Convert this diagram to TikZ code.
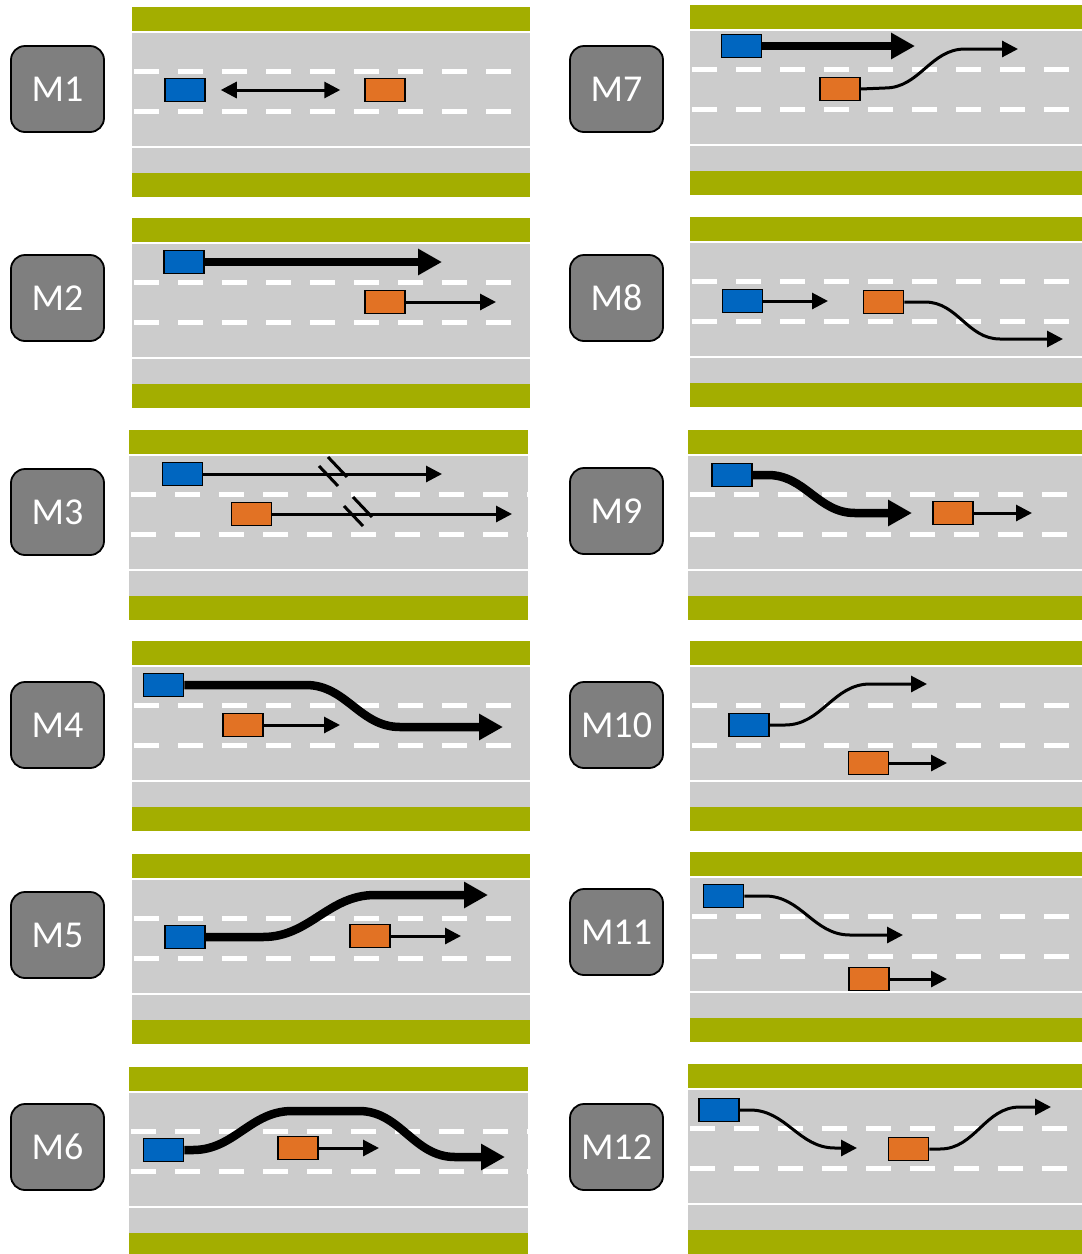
\documentclass[tikz,border=0pt]{standalone}
\usepackage{fontspec}
\usepackage{tikz}
\usetikzlibrary{arrows.meta}
\newfontfamily\tagfont{Carlito}

\definecolor{grass}{RGB}{163,174,0}
\definecolor{asphalt}{RGB}{204,204,204}
\definecolor{carblue}{RGB}{0,102,192}
\definecolor{carorange}{RGB}{226,114,36}
\definecolor{taggray}{RGB}{127,127,127}

\begin{document}
\begin{tikzpicture}[x=1pt, y=-1pt,
  tag/.style={draw=black, line width=1.8pt, fill=taggray, rounded corners=14pt,
    minimum width=93pt, minimum height=86pt, inner sep=0pt, text=white,
    font=\tagfont\fontsize{38}{40}\selectfont},
  car/.style={draw=black, line width=1.5pt, minimum width=40pt, minimum height=23pt, inner sep=0pt},
  bluecar/.style={car, fill=carblue},
  orangecar/.style={car, fill=carorange},
  fastarrow/.style={line width=8.5pt, -{Triangle[length=24pt,width=25pt]}},
  slowarrow/.style={line width=3pt, -{Triangle[length=16pt,width=16pt]}},
  gaparrow/.style={line width=3pt, {Triangle[length=16pt,width=16pt]}-{Triangle[length=16pt,width=16pt]}},
  breakmark/.style={line width=3pt},
  edgeline/.style={white, line width=2.5pt},
  laneline/.style={white, line width=5pt, dash pattern=on 25pt off 19pt}]
\useasboundingbox (0,0) rectangle (1082,1254);

% Roads
\foreach \t/\a/\b in {7/132/530, 218/132/530, 430/129/528, 641/132/530, 854/132/530, 1067/129/528,
    5/690/1082, 217/690/1082, 430/688/1082, 641/690/1082, 852/690/1082, 1064/688/1082} {
  \fill[grass] (\a,\t) rectangle (\b,\t+24);
  \fill[asphalt] (\a,\t+24) rectangle (\b,\t+166);
  \fill[grass] (\a,\t+166) rectangle (\b,\t+190);
  \draw[edgeline] (\a,\t+25) -- (\b,\t+25);
  \draw[edgeline] (\a,\t+140) -- (\b,\t+140);
  \draw[laneline] (\a+2,\t+64) -- (\b,\t+64);
  \draw[laneline] (\a+2,\t+104) -- (\b,\t+104);
}

% Manoeuvre labels
\node[tag] (m1) at (57.5,89) {M1};
\node[tag] (m2) at (57.5,298) {M2};
\node[tag] (m3) at (57.5,512) {M3};
\node[tag] (m4) at (57.5,725) {M4};
\node[tag] (m5) at (57.5,935) {M5};
\node[tag] (m6) at (57.5,1147) {M6};
\node[tag] (m7) at (616.5,89) {M7};
\node[tag] (m8) at (616.5,298) {M8};
\node[tag] (m9) at (616.5,511) {M9};
\node[tag] (m10) at (616.5,725) {M10};
\node[tag] (m11) at (616.5,932) {M11};
\node[tag] (m12) at (616.5,1147) {M12};

% M1
\node[bluecar] (m1b) at (185,90) {};
\node[orangecar] (m1o) at (385,90) {};
\draw[gaparrow] ([xshift=15pt]m1b.east) -- ([xshift=-24pt]m1o.west);

% M2
\node[bluecar] (m2b) at (184,262) {};
\node[orangecar] (m2o) at (385,302) {};
\coordinate (m2bt) at (442,262);
\coordinate (m2ot) at (496,302);
\draw[fastarrow] (m2b.east) -- (m2bt);
\draw[slowarrow] (m2o.east) -- (m2ot);

% M3
\node[bluecar] (m3b) at (182.5,474) {};
\node[orangecar] (m3o) at (251.5,514) {};
\coordinate (m3bt) at (442,474);
\coordinate (m3ot) at (512,514);
\draw[slowarrow] (m3b.east) -- (m3bt);
\draw[slowarrow] (m3o.east) -- (m3ot);
\draw[breakmark] (319,466) -- (338,486);
\draw[breakmark] (328,457) -- (347,477);
\draw[breakmark] (344,506) -- (363,526);
\draw[breakmark] (353,497) -- (372,517);

% M4
\node[bluecar] (m4b) at (163.5,685) {};
\node[orangecar] (m4o) at (243,725) {};
\coordinate (m4bt) at (503,727);
\coordinate (m4ot) at (340,725);
\draw[fastarrow] (m4b.east) -- (306,685) to[out=0,in=180] (400,727) -- (m4bt);
\draw[slowarrow] (m4o.east) -- (m4ot);

% M5
\node[bluecar] (m5b) at (185,937) {};
\node[orangecar] (m5o) at (370,936) {};
\coordinate (m5bt) at (488,895);
\coordinate (m5ot) at (461,936);
\draw[fastarrow] (m5b.east) -- (263,937) to[out=0,in=180] (375,895) -- (m5bt);
\draw[slowarrow] (m5o.east) -- (m5ot);

% M6
\node[bluecar] (m6b) at (163.5,1150) {};
\node[orangecar] (m6o) at (298,1148) {};
\coordinate (m6bt) at (505,1157);
\coordinate (m6ot) at (379,1148);
\draw[fastarrow] (m6b.east) -- (193,1150) to[out=0,in=180] (292,1111) -- (359,1111)
  to[out=0,in=180] (455,1157) -- (m6bt);
\draw[slowarrow] (m6o.east) -- (m6ot);

% M7
\node[bluecar] (m7b) at (741.5,46) {};
\node[orangecar] (m7o) at (840,89) {};
\coordinate (m7bt) at (915,46);
\coordinate (m7ot) at (1018,49);
\draw[fastarrow] (m7b.east) -- (m7bt);
\draw[slowarrow] (m7o.east) -- (885,88) to[out=0,in=180] (965,49) -- (m7ot);

% M8
\node[bluecar] (m8b) at (742.5,301) {};
\node[orangecar] (m8o) at (883.5,302) {};
\coordinate (m8bt) at (828,301);
\coordinate (m8ot) at (1063,339);
\draw[slowarrow] (m8b.east) -- (m8bt);
\draw[slowarrow] (m8o.east) -- (925,302) to[out=0,in=180] (1000,339) -- (m8ot);

% M9
\node[bluecar] (m9b) at (732,475) {};
\node[orangecar] (m9o) at (953,513) {};
\coordinate (m9bt) at (912,513);
\coordinate (m9ot) at (1032,513);
\draw[fastarrow] (m9b.east) -- (768,475) to[out=0,in=180] (855,513) -- (m9bt);
\draw[slowarrow] (m9o.east) -- (m9ot);

% M10
\node[bluecar] (m10b) at (749,725) {};
\node[orangecar] (m10o) at (868.5,763) {};
\coordinate (m10bt) at (927,684);
\coordinate (m10ot) at (947,763);
\draw[slowarrow] (m10b.east) -- (785,725) to[out=0,in=180] (870,684) -- (m10bt);
\draw[slowarrow] (m10o.east) -- (m10ot);

% M11
\node[bluecar] (m11b) at (723.5,896) {};
\node[orangecar] (m11o) at (869,979) {};
\coordinate (m11bt) at (903,935);
\coordinate (m11ot) at (947,979);
\draw[slowarrow] (m11b.east) -- (765,896) to[out=0,in=180] (850,935) -- (m11bt);
\draw[slowarrow] (m11o.east) -- (m11ot);

% M12
\node[bluecar] (m12b) at (719,1110) {};
\node[orangecar] (m12o) at (908.5,1149) {};
\coordinate (m12bt) at (857,1148);
\coordinate (m12ot) at (1051,1107);
\draw[slowarrow] (m12b.east) -- (750,1110) to[out=0,in=180] (835,1148) -- (m12bt);
\draw[slowarrow] (m12o.east) -- (940,1149) to[out=0,in=180] (1020,1107) -- (m12ot);

\end{tikzpicture}
\end{document}
